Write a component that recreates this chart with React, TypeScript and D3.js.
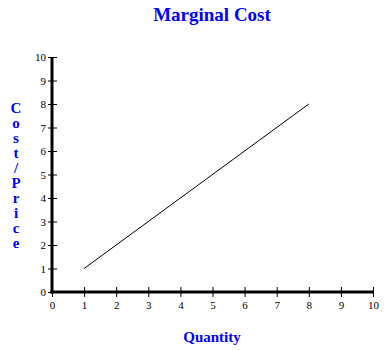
import React, { useEffect, useRef } from 'react'
import * as d3 from 'd3'

// marginal cost curve
const quantity = [1, 8]
const cost = [1, 8]
const xTicks = [0, 1, 2, 3, 4, 5, 6, 7, 8, 9, 10]
const yTicks = [0, 1, 2, 3, 4, 5, 6, 7, 8, 9, 10]
const yLabel = ['C', 'o', 's', 't', '/', 'P', 'r', 'i', 'c', 'e']

const width = 384, height = 351
const margin = { top: 57, right: 11, bottom: 59, left: 52 }
const blue = '#0000ff'
const serif = '"Liberation Serif", "Times New Roman", serif'

export default function App() {
    const ref = useRef<SVGSVGElement>(null)

    useEffect(() => {
        const svg = d3.select(ref.current)
        svg.selectAll('*').remove()

        const x = d3.scaleLinear().domain([0, 10]).range([margin.left, width - margin.right])
        const y = d3.scaleLinear().domain([0, 10]).range([height - margin.bottom, margin.top])

        // title
        svg.append('text')
            .attr('x', 212).attr('y', 21)
            .attr('text-anchor', 'middle')
            .style('font-family', serif).style('font-weight', 'bold')
            .style('font-size', '19px').style('fill', blue)
            .text('Marginal Cost')

        // x axis
        const gx = svg.append('g')
            .attr('transform', `translate(0,${y(0)})`)
            .call(d3.axisBottom(x).tickValues(xTicks).tickFormat(d3.format('d')).tickSize(5).tickPadding(4))
        gx.select('.domain').attr('stroke-width', 3).attr('d', `M${x(0) - 1.5},0H${x(10)}`)
        gx.selectAll('.tick line').attr('y1', -5)

        // y axis
        const gy = svg.append('g')
            .attr('transform', `translate(${x(0)},0)`)
            .call(d3.axisLeft(y).tickValues(yTicks).tickFormat(d3.format('d')).tickSize(4).tickPadding(2))
        gy.select('.domain').attr('stroke-width', 3).attr('d', `M0,${y(10)}V${y(0) + 1.5}`)
        gy.selectAll('.tick line').attr('x1', 5)

        svg.selectAll('.tick text')
            .style('font-family', serif).style('font-size', '11px').attr('fill', '#000')

        // curve
        const line = d3.line<number>()
            .x((d, i) => x(quantity[i]))
            .y(d => y(d))
        svg.append('path')
            .datum(cost)
            .attr('d', line)
            .attr('fill', 'none')
            .attr('stroke', '#000')
            .attr('stroke-width', 1)

        // axis labels
        svg.append('text')
            .attr('x', 212).attr('y', 342)
            .attr('text-anchor', 'middle')
            .style('font-family', serif).style('font-weight', 'bold')
            .style('font-size', '15px').style('fill', blue)
            .text('Quantity')

        svg.append('g')
            .selectAll('text')
            .data(yLabel)
            .join('text')
            .attr('x', 16)
            .attr('y', (d, i) => 113 + i * 15)
            .attr('text-anchor', 'middle')
            .style('font-family', serif).style('font-weight', 'bold')
            .style('font-size', '15px').style('fill', blue)
            .text(d => d)
    }, [])

    return (
        <svg ref={ref} width={width} height={height}
            style={{ position: 'absolute', left: 0, top: 0, background: '#fff' }} />
    )
}
